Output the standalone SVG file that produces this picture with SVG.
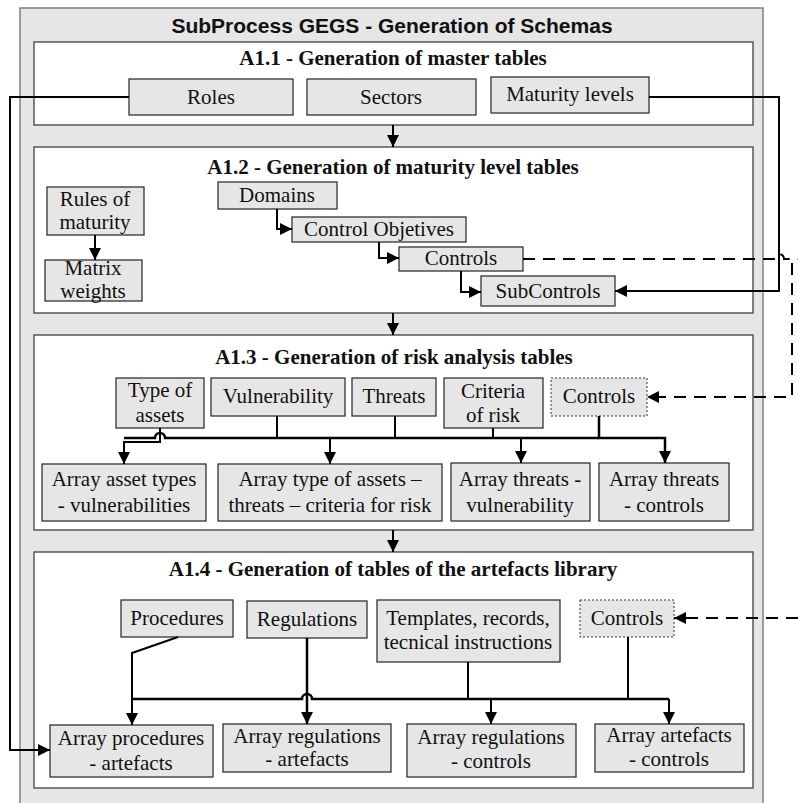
<svg xmlns="http://www.w3.org/2000/svg" width="798" height="803" viewBox="0 0 798 803">
<defs>
<marker id="ah" viewBox="0 0 12 12" refX="12" refY="6" markerWidth="12" markerHeight="12" markerUnits="userSpaceOnUse" orient="auto">
<path d="M0,0 L12,6 L0,12 z" fill="#000"/>
</marker>
</defs>
<style>
.frame{fill:#e6e6e6;stroke:#808080;stroke-width:1.5}
.sec{fill:#fff;stroke:#404040;stroke-width:1.3}
.box{fill:#e6e6e6;stroke:#333;stroke-width:1.3}
.dbox{fill:#e6e6e6;stroke:#333;stroke-width:1;stroke-dasharray:2 2}
.t{font-family:"Liberation Serif","Times New Roman",serif;font-size:21px;fill:#111;text-anchor:middle}
.h{font-family:"Liberation Serif","Times New Roman",serif;font-size:21px;font-weight:bold;fill:#111;text-anchor:middle}
.mt{font-family:"Liberation Sans",Arial,sans-serif;font-size:21px;font-weight:bold;fill:#111;text-anchor:middle}
.c{fill:none;stroke:#000;stroke-width:2}
.cb{fill:none;stroke:#000;stroke-width:2.5}
.d{fill:none;stroke:#000;stroke-width:2;stroke-dasharray:12 8}
.a{marker-end:url(#ah)}
</style>
<g id="frame">
<rect class="frame" x="20" y="8" width="743" height="800"/>
<text class="mt" x="392" y="33">SubProcess GEGS - Generation of Schemas</text>
</g>
<g id="A1.1">
<rect class="sec" x="34" y="42" width="719" height="83"/>
<text class="h" x="393" y="65">A1.1 - Generation of master tables</text>
</g>
<g id="A1.2">
<rect class="sec" x="34" y="147" width="719" height="166"/>
<text class="h" x="393" y="174">A1.2 - Generation of maturity level tables</text>
</g>
<g id="A1.3">
<rect class="sec" x="34" y="335" width="719" height="195"/>
<text class="h" x="394" y="364">A1.3 - Generation of risk analysis tables</text>
</g>
<g id="A1.4">
<rect class="sec" x="34" y="552" width="719" height="236"/>
<text class="h" x="393" y="576">A1.4 - Generation of tables of the artefacts library</text>
</g>
<g id="roles"><rect class="box" x="129" y="79" width="164" height="36"/><text class="t" x="211" y="104">Roles</text></g>
<g id="sectors"><rect class="box" x="307" y="79" width="169" height="36"/><text class="t" x="391" y="104">Sectors</text></g>
<g id="maturity-levels"><rect class="box" x="491" y="77" width="158" height="36"/><text class="t" x="570" y="101">Maturity levels</text></g>
<g id="rules-of-maturity"><rect class="box" x="47" y="187" width="97" height="48"/><text class="t" x="95" y="206">Rules of</text><text class="t" x="95" y="229">maturity</text></g>
<g id="matrix-weights"><rect class="box" x="45" y="260" width="97" height="41"/><text class="t" x="93" y="275">Matrix</text><text class="t" x="93" y="298">weights</text></g>
<g id="domains"><rect class="box" x="218" y="182" width="119" height="27"/><text class="t" x="277" y="202">Domains</text></g>
<g id="control-objetives"><rect class="box" x="292" y="217" width="174" height="25"/><text class="t" x="379" y="236">Control Objetives</text></g>
<g id="controls-a12"><rect class="box" x="399" y="247" width="124" height="24"/><text class="t" x="461" y="265">Controls</text></g>
<g id="subcontrols"><rect class="box" x="481" y="276" width="134" height="30"/><text class="t" x="548" y="298">SubControls</text></g>
<g id="type-of-assets"><rect class="box" x="116" y="378" width="88" height="50"/><text class="t" x="160" y="397">Type of</text><text class="t" x="160" y="422">assets</text></g>
<g id="vulnerability"><rect class="box" x="211" y="378" width="134" height="38"/><text class="t" x="278" y="403">Vulnerability</text></g>
<g id="threats"><rect class="box" x="352" y="378" width="84" height="38"/><text class="t" x="394" y="403">Threats</text></g>
<g id="criteria-of-risk"><rect class="box" x="444" y="378" width="99" height="50"/><text class="t" x="493" y="398">Criteria</text><text class="t" x="493" y="422">of risk</text></g>
<g id="controls-a13"><rect class="dbox" x="551" y="378" width="96" height="38"/><text class="t" x="599" y="403">Controls</text></g>
<g id="array-asset-vuln"><rect class="box" x="42" y="464" width="164" height="57"/><text class="t" x="124" y="486">Array asset types</text><text class="t" x="124" y="512">- vulnerabilities</text></g>
<g id="array-type-threats-criteria"><rect class="box" x="218" y="464" width="224" height="57"/><text class="t" x="330" y="486">Array type of assets –</text><text class="t" x="330" y="512">threats – criteria for risk</text></g>
<g id="array-threats-vuln"><rect class="box" x="451" y="463" width="139" height="58"/><text class="t" x="520" y="486">Array threats -</text><text class="t" x="520" y="512">vulnerability</text></g>
<g id="array-threats-controls"><rect class="box" x="599" y="463" width="130" height="58"/><text class="t" x="664" y="486">Array threats</text><text class="t" x="664" y="512">- controls</text></g>
<g id="procedures"><rect class="box" x="121" y="600" width="112" height="37"/><text class="t" x="177" y="625">Procedures</text></g>
<g id="regulations"><rect class="box" x="247" y="601" width="120" height="37"/><text class="t" x="307" y="626">Regulations</text></g>
<g id="templates"><rect class="box" x="377" y="600" width="183" height="62"/><text class="t" x="468" y="625">Templates, records,</text><text class="t" x="468" y="649">tecnical instructions</text></g>
<g id="controls-a14"><rect class="dbox" x="580" y="600" width="94" height="37"/><text class="t" x="627" y="625">Controls</text></g>
<g id="array-procedures-artefacts"><rect class="box" x="50" y="725" width="163" height="52"/><text class="t" x="131" y="745">Array procedures</text><text class="t" x="131" y="770">- artefacts</text></g>
<g id="array-regulations-artefacts"><rect class="box" x="223" y="724" width="168" height="48"/><text class="t" x="307" y="743">Array regulations</text><text class="t" x="307" y="766">- artefacts</text></g>
<g id="array-regulations-controls"><rect class="box" x="407" y="724" width="169" height="53"/><text class="t" x="491" y="744">Array regulations</text><text class="t" x="491" y="768">- controls</text></g>
<g id="array-artefacts-controls"><rect class="box" x="595" y="724" width="149" height="48"/><text class="t" x="669" y="742">Array artefacts</text><text class="t" x="669" y="766">- controls</text></g>
<g id="connectors">
<path class="c a" d="M393,125 V147"/>
<path class="c a" d="M393,313 V335"/>
<path class="c a" d="M393,530 V552"/>
<path class="c a" d="M129,97 H10 V750 H50"/>
<path class="c a" d="M649,97 H779 V291 H615"/>
<path class="d" d="M523,259 H774 A5,5 0 0 1 784,259 H798"/>
<path class="d a" d="M792,263 V397 H647"/>
<path class="d a" d="M798,618 H674"/>
<path class="c a" d="M95,235 V260"/>
<path class="c a" d="M277,209 V229 H292"/>
<path class="c a" d="M379,242 V258 H399"/>
<path class="c a" d="M461,271 V292 H481"/>
<path class="cb" d="M124,438 H155 A5,5 0 0 1 165,438 H599"/>
<path class="c a" d="M160,428 V442 H124 V464"/>
<path class="c" d="M277,416 V438 M395,416 V438 M493,428 V438"/>
<path class="cb a" d="M599,416 V438 H665 V463"/>
<path class="c a" d="M330,438 V464"/>
<path class="c a" d="M521,438 V463"/>
<path class="c a" d="M178,637 L132,653 V725"/>
<path class="cb" d="M132,699 H302 A5,5 0 0 1 312,699 H669"/>
<path class="c a" d="M669,699 V724"/>
<path class="cb a" d="M307,638 V724"/>
<path class="c" d="M468,662 V699 M628,637 V699"/>
<path class="c a" d="M491,699 V724"/>
</g>
</svg>
